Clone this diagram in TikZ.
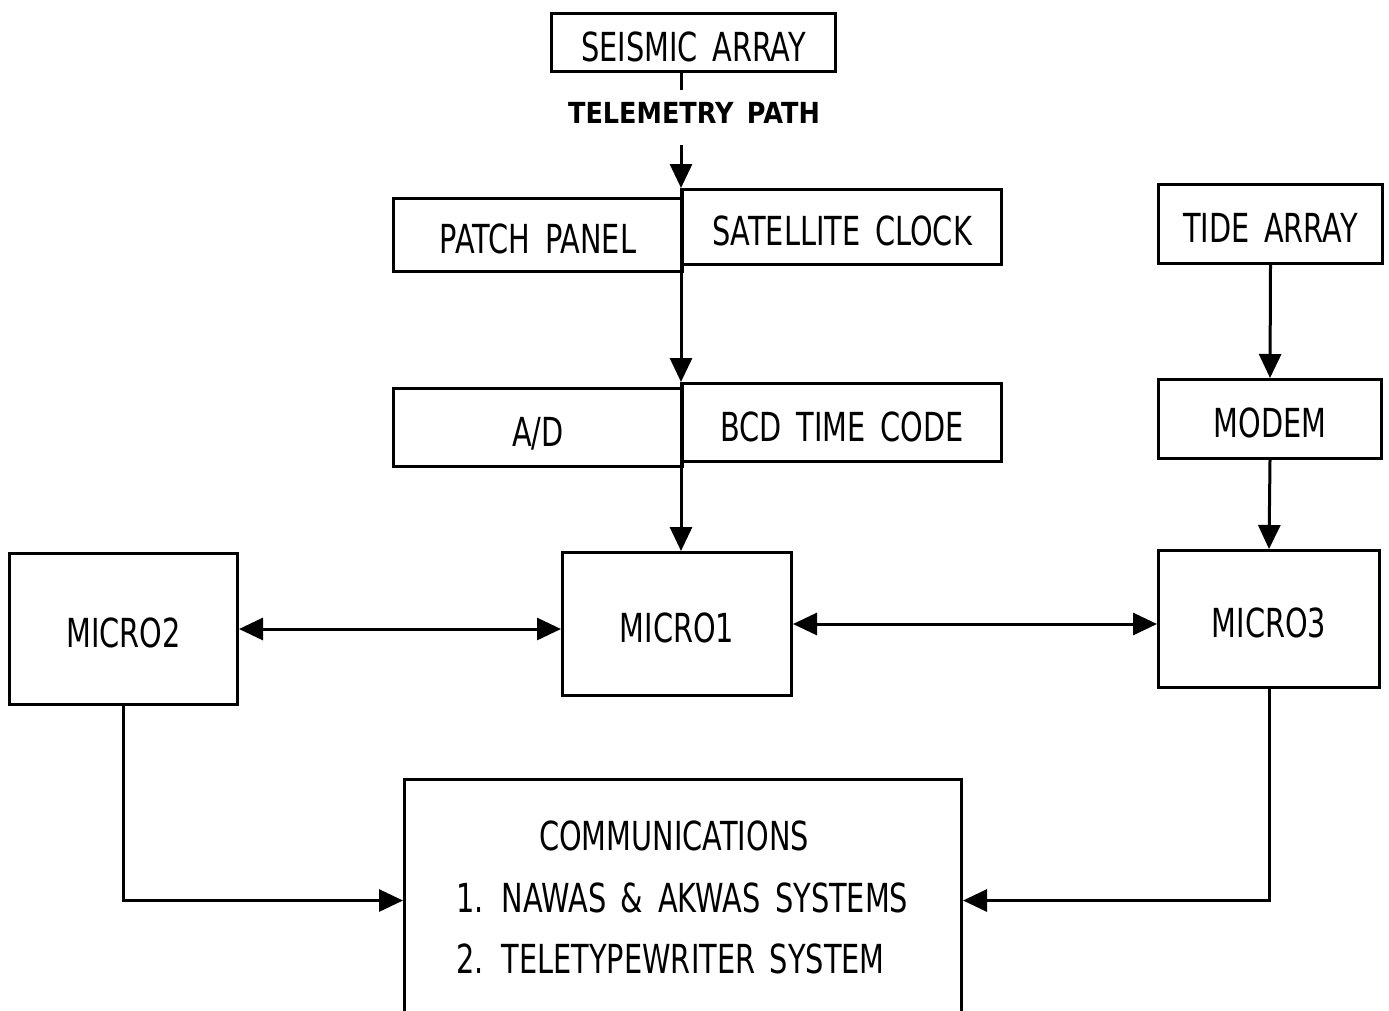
\documentclass[tikz,border=0pt]{standalone}
\usepackage{fontspec}
\setmainfont{DejaVu Sans}[FakeStretch=0.72,WordSpace=1.6]
\newfontfamily\telefont{DejaVu Sans}[FakeStretch=0.88,WordSpace=1.5]
\usetikzlibrary{arrows.meta}
\begin{document}
\begin{tikzpicture}[x=1pt,y=-1pt,
  box/.style={draw,line width=3pt,rectangle,inner sep=0pt,anchor=north west,
    text height=37pt,text depth=0pt,font=\fontsize{40}{40}\selectfont},
  arr/.style={line width=3pt,-{Triangle[length=24pt,width=22pt]}},
  arrb/.style={line width=3pt,{Triangle[length=24pt,width=22pt]}-{Triangle[length=24pt,width=22pt]}},
  conn/.style={line width=3pt}]
\clip (0,0) rectangle (1389,1010);
\fill[white] (0,0) rectangle (1389,1010);
% boxes
\node[box,minimum width=284pt,minimum height=58pt] (seis) at (550,12) {SEISMIC ARRAY};
\node[box,minimum width=289pt,minimum height=73pt] (pp) at (392,197) {PATCH PANEL};
\node[box,minimum width=319pt,minimum height=75pt] (sc) at (681,188) {SATELLITE CLOCK};
\node[box,minimum width=289pt,minimum height=78pt] (ad) at (392,387) {A/D};
\node[box,minimum width=319pt,minimum height=78pt] (bcd) at (681,382) {BCD TIME CODE};
\node[box,minimum width=224pt,minimum height=79pt] (tide) at (1157,183) {TIDE ARRAY};
\node[box,minimum width=223pt,minimum height=79pt] (modem) at (1157,378) {MODEM};
\node[box,minimum width=228pt,minimum height=151pt] (m2) at (8,552) {MICRO2};
\node[box,minimum width=229pt,minimum height=143pt] (m1) at (561,551) {MICRO1};
\node[box,minimum width=221pt,minimum height=137pt] (m3) at (1157,549) {MICRO3};
\node[box,minimum width=557pt,minimum height=242pt] (comm) at (403,778) {};
\node[font=\fontsize{40}{40}\selectfont] (ct) at (674,836) {COMMUNICATIONS};
\node[font=\fontsize{40}{40}\selectfont,anchor=west] (c1) at (453,898) {1. NAWAS \& AKWAS SYSTEMS};
\node[font=\fontsize{40}{40}\selectfont,anchor=west] (c2) at (453,959) {2. TELETYPEWRITER SYSTEM};
\node[font=\telefont\bfseries\fontsize{29}{29}\selectfont] (tele) at (694,113) {TELEMETRY PATH};
% connectors
\coordinate (s1) at (681,90);
\coordinate (t1) at (681,145);
\draw[conn] (seis.south -| s1) -- (s1);
\draw[arr] (t1) -- (sc.north west);
\draw[arr] (sc.north west) -- (bcd.north west);
\draw[arr] (bcd.north west) -- (bcd.north west |- m1.north);
\draw[arr] (tide.south) -- (modem.north);
\draw[arr] (modem.south) -- (m3.north);
\draw[arrb] (m2.east) -- (m2.east -| m1.west);
\draw[arrb] (m1.east) -- (m1.east -| m3.west);
\draw[arr] (m2.south) |- (comm.west);
\draw[arr] (m3.south) |- (comm.east);
\end{tikzpicture}
\end{document}
